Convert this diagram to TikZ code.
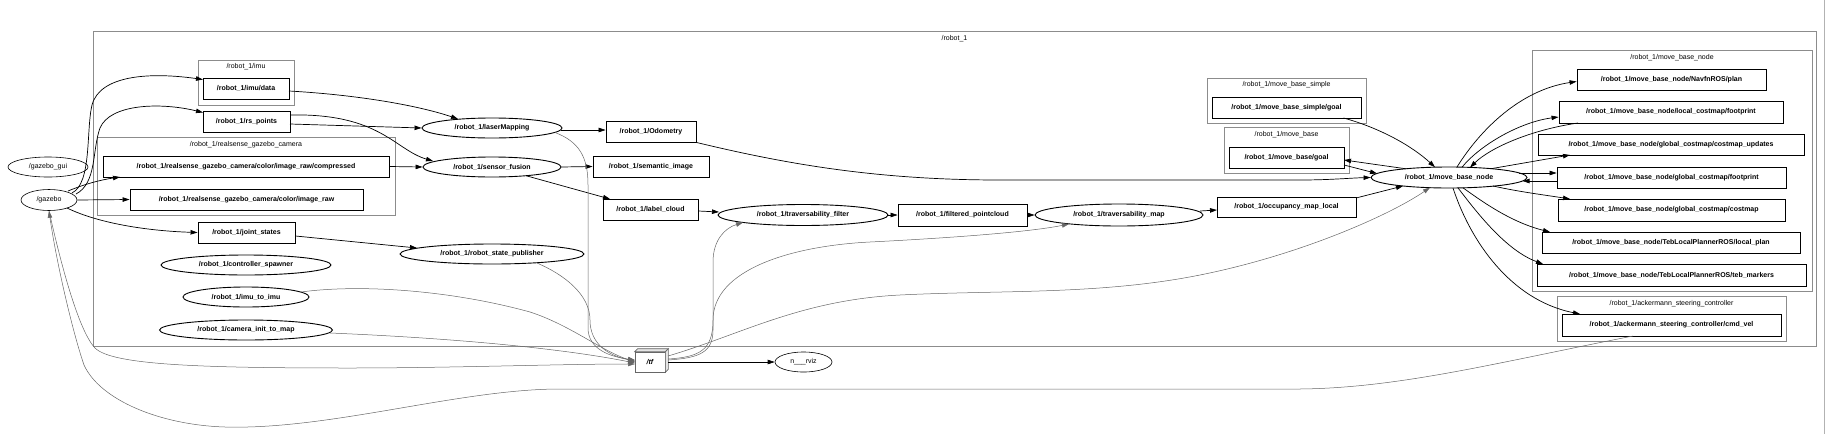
\documentclass[tikz,border=0pt]{standalone}
\usepackage{fontspec}
\setmainfont{Liberation Sans}
\usetikzlibrary{shapes.geometric,arrows.meta,calc}
\begin{document}
\begin{tikzpicture}[x=1pt,y=-1pt,
  topic/.style={draw=black, line width=0.9pt, rectangle, minimum height=21pt, inner sep=0pt, font=\bfseries\fontsize{7}{8}\selectfont},
  rnode/.style={draw=black, line width=0.9pt, ellipse, minimum height=20pt, inner sep=0pt, font=\bfseries\fontsize{7}{8}\selectfont},
  plainnode/.style={draw=black, line width=0.6pt, ellipse, minimum height=20pt, inner sep=0pt, font=\fontsize{7}{8}\selectfont},
  clus/.style={draw=black!45, line width=0.8pt},
  ctitle/.style={font=\fontsize{7}{8}\selectfont, inner sep=0pt},
  link/.style={-{Triangle[length=7pt,width=4.5pt]}, line width=0.7pt, black},
  tflink/.style={link, draw=black!60, line width=0.5pt}
]
\useasboundingbox (0,0) rectangle (1830,434);
\draw[black!30, line width=0.6pt] (1824,0) -- (1824,434);

% clusters
\draw[clus] (93,31) rectangle (1816,346);
\node[ctitle] (t_robot) at (954.5,38.5) {/robot\_1};
\draw[clus] (198,60) rectangle (294,105);
\node[ctitle] (t_imu) at (246,67) {/robot\_1/imu};
\draw[clus] (97,137) rectangle (395,215);
\node[ctitle] (t_rs) at (246,145) {/robot\_1/realsense\_gazebo\_camera};
\draw[clus] (1207,78) rectangle (1366,123);
\node[ctitle] (t_mbs) at (1286.5,85) {/robot\_1/move\_base\_simple};
\draw[clus] (1224,127) rectangle (1349,173);
\node[ctitle] (t_mb) at (1286.5,135) {/robot\_1/move\_base};
\draw[clus] (1532,50) rectangle (1812,291);
\node[ctitle] (t_mbn) at (1672,57.5) {/robot\_1/move\_base\_node};
\draw[clus] (1557,296) rectangle (1786,341);
\node[ctitle] (t_ack) at (1671.5,303.5) {/robot\_1/ackermann\_steering\_controller};

% nodes
\node[plainnode, minimum width=80pt] (gazebo_gui) at (48,167) {/gazebo\_gui};
\node[plainnode, minimum width=56pt, minimum height=21pt] (gazebo) at (49,200) {/gazebo};
\node[topic, minimum width=86pt] (imu_data) at (246,88.5) {/robot\_1/imu/data};
\node[topic, minimum width=87pt] (rs_points) at (246.5,121.5) {/robot\_1/rs\_points};
\node[topic, minimum width=286pt] (compressed) at (246,166.5) {/robot\_1/realsense\_gazebo\_camera/color/image\_raw/compressed};
\node[topic, minimum width=233pt] (image_raw) at (246.5,199.5) {/robot\_1/realsense\_gazebo\_camera/color/image\_raw};
\node[topic, minimum width=97pt] (joint_states) at (246.5,232.5) {/robot\_1/joint\_states};
\node[rnode, minimum width=170pt] (spawner) at (246,265) {/robot\_1/controller\_spawner};
\node[rnode, minimum width=126pt] (imu_to_imu) at (246,297) {/robot\_1/imu\_to\_imu};
\node[rnode, minimum width=173pt] (cam_init) at (246,330) {/robot\_1/camera\_init\_to\_map};
\node[rnode, minimum width=140pt] (laser) at (492,128) {/robot\_1/laserMapping};
\node[rnode, minimum width=138pt] (fusion) at (492,167) {/robot\_1/sensor\_fusion};
\node[rnode, minimum width=184pt] (rsp) at (492,254) {/robot\_1/robot\_state\_publisher};
\node[topic, minimum width=90pt] (odom) at (651,131.5) {/robot\_1/Odometry};
\node[topic, minimum width=116pt] (semantic) at (651,166.5) {/robot\_1/semantic\_image};
\node[topic, minimum width=95pt] (label) at (650.5,209.5) {/robot\_1/label\_cloud};
\node[rnode, minimum width=170pt, minimum height=21pt] (tfilter) at (803,215) {/robot\_1/traversability\_filter};
\node[topic, minimum width=129pt, minimum height=22pt] (filtered) at (962.5,215) {/robot\_1/filtered\_pointcloud};
\node[rnode, minimum width=168pt, minimum height=22pt] (tmap) at (1119,215) {/robot\_1/traversability\_map};
\node[topic, minimum width=139pt, minimum height=20pt] (occ) at (1286.5,207) {/robot\_1/occupancy\_map\_local};
\node[topic, minimum width=149pt] (mbs_goal) at (1286.5,107.5) {/robot\_1/move\_base\_simple/goal};
\node[topic, minimum width=115pt] (mb_goal) at (1286.5,157.5) {/robot\_1/move\_base/goal};
\node[rnode, minimum width=156pt, minimum height=21pt] (mbn) at (1449,177.5) {/robot\_1/move\_base\_node};
\node[topic, minimum width=189pt] (navfn) at (1671.5,79.5) {/robot\_1/move\_base\_node/NavfnROS/plan};
\node[topic, minimum width=224pt, minimum height=22pt] (lc_fp) at (1671,112) {/robot\_1/move\_base\_node/local\_costmap/footprint};
\node[topic, minimum width=266pt] (gc_upd) at (1671,144.5) {/robot\_1/move\_base\_node/global\_costmap/costmap\_updates};
\node[topic, minimum width=229pt] (gc_fp) at (1671.5,177.5) {/robot\_1/move\_base\_node/global\_costmap/footprint};
\node[topic, minimum width=227pt, minimum height=22pt] (gc_cm) at (1671.5,210) {/robot\_1/move\_base\_node/global\_costmap/costmap};
\node[topic, minimum width=258pt] (local_plan) at (1671,242.5) {/robot\_1/move\_base\_node/TebLocalPlannerROS/local\_plan};
\node[topic, minimum width=269pt, minimum height=22pt] (teb) at (1671.5,275) {/robot\_1/move\_base\_node/TebLocalPlannerROS/teb\_markers};
\node[topic, minimum width=219pt, minimum height=22pt] (cmd_vel) at (1671.5,325) {/robot\_1/ackermann\_steering\_controller/cmd\_vel};
\node[plainnode, minimum width=57pt] (rviz) at (803.5,362) {n\_\_\_rviz};

% /tf as a 3D box
\node[topic, draw=black!60, line width=0.7pt, fill=white, minimum width=30pt, minimum height=20pt, font=\bfseries\itshape\fontsize{7}{8}\selectfont] (tf) at (650,362) {/tf};
\draw[black!60, line width=0.7pt, fill=black!10] (tf.north west) -- ++(3,-3) -- ($(tf.north east)+(3,-3)$) -- (tf.north east) -- cycle;
\draw[black!60, line width=0.7pt, fill=black!10] (tf.north east) -- ++(3,-3) -- ($(tf.south east)+(3,-3)$) -- (tf.south east) -- cycle;

% edges from /gazebo
\draw[link] ($(gazebo)+(23,-7)$) .. controls (92,183) and (86,130) .. (92,105) .. controls (100,75) and (150,72) .. ($(imu_data)+(-43,-9)$);
\draw[link] ($(gazebo)+(27,-6)$) .. controls (97,183) and (92,150) .. (100,128) .. controls (110,104) and (160,102) .. ($(rs_points)+(-43.5,-9)$);
\draw[link] ($(gazebo)+(19,-9)$) .. controls (85,184) and (100,180) .. ($(compressed)+(-126,10.5)$);
\draw[link] (gazebo.east) -- (image_raw.west);
\draw[link] ($(gazebo)+(18,8)$) .. controls (100,224) and (150,231) .. (joint_states.west);

% sensors
\draw[link] ($(imu_data)+(43,2.5)$) .. controls (360,95) and (420,106) .. ($(laser)+(-34,-9)$);
\draw[link] ($(rs_points)+(43.5,2.5)$) -- (laser.west);
\draw[link] ($(rs_points)+(43.5,-6.5)$) .. controls (380,113) and (395,150) .. ($(fusion)+(-59,-6)$);
\draw[link] (compressed.east) -- (fusion.west);
\draw[link] ($(laser)+(69,2)$) -- ($(odom.west)+(0,-1.5)$);
\draw[link] (fusion.east) -- (semantic.west);
\draw[link] ($(fusion)+(34,8.7)$) -- ($(label)+(-40.5,-10.5)$);
\draw[link] (odom.south east) .. controls (790,165) and (880,180) .. (1000,180) -- (1300,180) .. controls (1330,180) and (1350,178) .. (mbn.west);
\draw[link] ($(label.east)+(0,1.5)$) -- ($(tfilter)+(-84,-3)$);
\draw[link] ($(joint_states.east)+(0,3.5)$) -- ($(rsp)+(-75,-6)$);

% to /tf
\draw[tflink] ($(laser)+(63,4.5)$) .. controls (580,142) and (588,158) .. (588,185) -- (588,328) .. controls (588,350) and (612,357) .. ($(tf)+(-15,-2)$);
\draw[tflink] ($(rsp)+(45,9)$) .. controls (565,275) and (590,295) .. (590,320) .. controls (590,345) and (610,356) .. ($(tf)+(-15,-1)$);
\draw[tflink] ($(imu_to_imu)+(55,-5)$) .. controls (360,284) and (450,290) .. (530,312) .. controls (570,325) and (600,350) .. ($(tf)+(-15,0)$);
\draw[tflink] ($(cam_init)+(84,3)$) .. controls (450,338) and (560,348) .. ($(tf)+(-15,1)$);
\draw[tflink] (gazebo.south) .. controls (60,260) and (78,330) .. (95,348) .. controls (112,365) and (200,368) .. (350,368) .. controls (450,368) and (560,364) .. ($(tf)+(-15,2)$);

% from /tf
\draw[tflink] ($(tf)+(18,-2)$) .. controls (700,358) and (713,352) .. (713,330) -- (713,262) .. controls (713,240) and (725,228) .. ($(tfilter)+(-60,7.5)$);
\draw[tflink] ($(tf)+(18,-3)$) .. controls (700,357) and (713,350) .. (713,320) .. controls (713,270) and (790,246) .. (870,242) .. controls (950,238) and (1030,232) .. ($(tmap)+(-50,9)$);
\draw[tflink] ($(tf)+(18,-6)$) .. controls (740,335) and (800,300) .. (900,295) .. controls (1000,290) and (1100,295) .. (1200,275) .. controls (1300,255) and (1390,215) .. ($(mbn)+(-19,10)$);
\draw[link, line width=0.6pt] ($(tf.east)+(3,0)$) -- (rviz.west);

% pipeline
\draw[link] (tfilter.east) -- (filtered.west);
\draw[link] (filtered.east) -- (tmap.west);
\draw[link] ($(tmap)+(81,-4)$) -- ($(occ)+(-69.5,3)$);
\draw[link] ($(occ)+(69.5,-9)$) -- ($(mbn)+(-46,8.5)$);

% move_base
\draw[link] ($(mbs_goal)+(57,10.5)$) .. controls (1380,128) and (1412,146) .. ($(mbn)+(-14,-10.3)$);
\draw[link] ($(mbn)+(-43,-8.7)$) -- ($(mb_goal)+(57.5,2.5)$);
\draw[link] ($(mb_goal)+(57.5,7.5)$) -- ($(mbn)+(-72,-4)$);
\draw[link] ($(mbn)+(8,-10.5)$) .. controls (1480,130) and (1520,90) .. ($(navfn.west)+(0,2)$);
\draw[link] ($(mbn)+(13,-10.3)$) .. controls (1480,145) and (1520,122) .. ($(lc_fp.west)+(0,5)$);
\draw[link] ($(lc_fp)+(-93,11)$) .. controls (1530,130) and (1490,148) .. ($(mbn)+(21,-10)$);
\draw[link] ($(mbn)+(42,-8.8)$) -- ($(gc_upd)+(-101,10.5)$);
\draw[link] ($(mbn)+(70,-4.5)$) -- ($(gc_fp.west)+(0,-4.5)$);
\draw[link] ($(gc_fp.west)+(0,3.5)$) -- ($(mbn)+(73.5,3.5)$);
\draw[link] ($(mbn)+(44,8.5)$) .. controls (1520,192) and (1545,195) .. ($(gc_cm)+(-101.5,-11)$);
\draw[link] ($(mbn)+(14,10.3)$) .. controls (1480,200) and (1510,222) .. ($(local_plan)+(-121,-10.5)$);
\draw[link] ($(mbn)+(9,10.4)$) .. controls (1475,210) and (1505,250) .. ($(teb)+(-128.5,-11)$);
\draw[link] ($(mbn)+(4,10.5)$) .. controls (1470,240) and (1510,300) .. ($(cmd_vel)+(-91.5,-11)$);

% cmd_vel back to gazebo
\draw[tflink] ($(cmd_vel)+(-38.5,11)$) .. controls (1500,362) and (1400,388) .. (1300,389) -- (560,389) .. controls (460,389) and (330,430) .. (225,427) .. controls (160,425) and (100,400) .. (84,365) .. controls (72,330) and (56,260) .. (gazebo.south);
\end{tikzpicture}
\end{document}
